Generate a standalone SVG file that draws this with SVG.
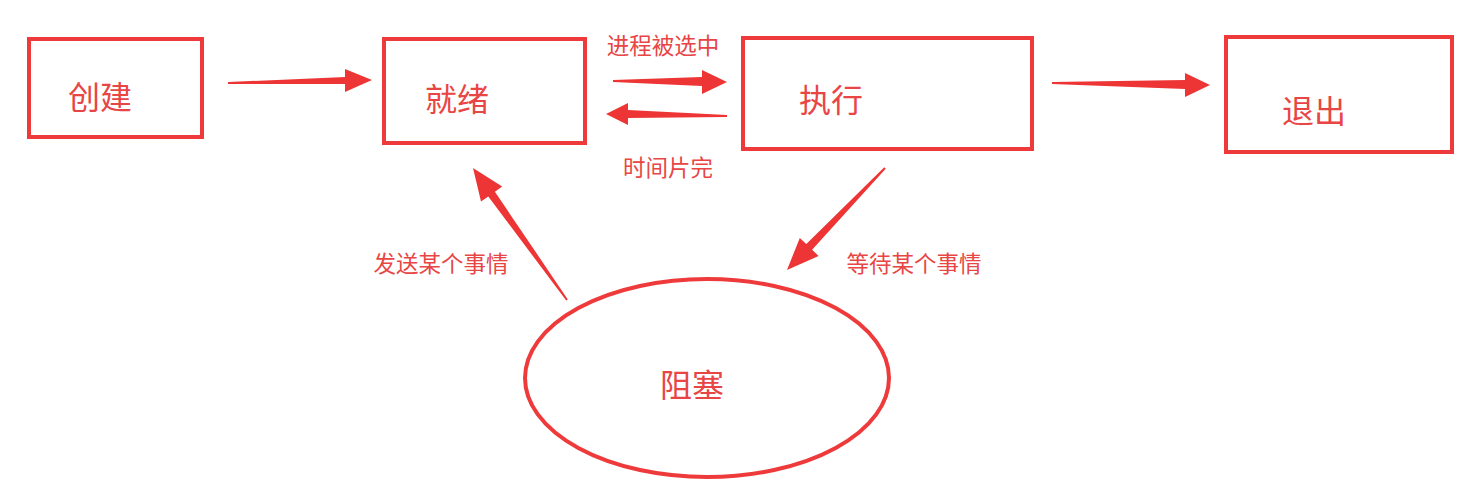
<svg xmlns="http://www.w3.org/2000/svg" width="1476" height="504" viewBox="0 0 1476 504">
<style>
.box{fill:#fff;stroke:#ee3a3a;stroke-width:4}
.t{font-family:"Noto Sans CJK SC","Noto Sans",sans-serif;fill:#e84545;text-anchor:middle;dominant-baseline:central}
.big{font-size:32px}
.lbl{font-size:22.5px}
.arr{fill:#ee3535;stroke:none}
</style>
<rect width="1476" height="504" fill="#fff"/>
<g id="node-create"><rect class="box" x="29" y="39" width="173" height="98"/><text class="t big" x="100" y="95">创建</text></g>
<g id="node-ready"><rect class="box" x="384" y="39" width="201" height="104"/><text class="t big" x="457" y="97">就绪</text></g>
<g id="node-run"><rect class="box" x="743" y="38" width="289" height="111"/><text class="t big" x="831" y="98">执行</text></g>
<g id="node-exit"><rect class="box" x="1226" y="37" width="226" height="115"/><text class="t big" x="1314" y="109">退出</text></g>
<g id="node-block"><ellipse cx="707" cy="378" rx="182" ry="99" fill="#fff" stroke="#ee3a3a" stroke-width="4"/><text class="t big" x="692" y="383">阻塞</text></g>
<g id="connectors">
<polygon class="arr" points="228,82 345,77 345,69 372,80 345,92 345,84 228,84"/>
<polygon class="arr" points="613,80 702,77 702,70 727,82 702,94 702,86 613,82"/>
<polygon class="arr" points="727,115 628,110 628,103 606,114 628,125 628,118 727,117"/>
<polygon class="arr" points="1052,82 1185,80 1185,73 1210,85 1185,97 1185,89 1052,84"/>
<polygon class="arr" points="884.3,167.3 806.3,244.1 799.8,237.9 787,270 818.6,255.9 812.1,249.7 885.7,168.7"/>
<polygon class="arr" points="567.8,299.4 494.9,191.8 502.2,186.6 473,168 481,201.6 488.3,196.4 566.2,300.6"/>
</g>
<g id="labels">
<text class="t lbl" x="663" y="44">进程被选中</text>
<text class="t lbl" x="668" y="166">时间片完</text>
<text class="t lbl" x="441" y="262">发送某个事情</text>
<text class="t lbl" x="914" y="262">等待某个事情</text>
</g>
</svg>
